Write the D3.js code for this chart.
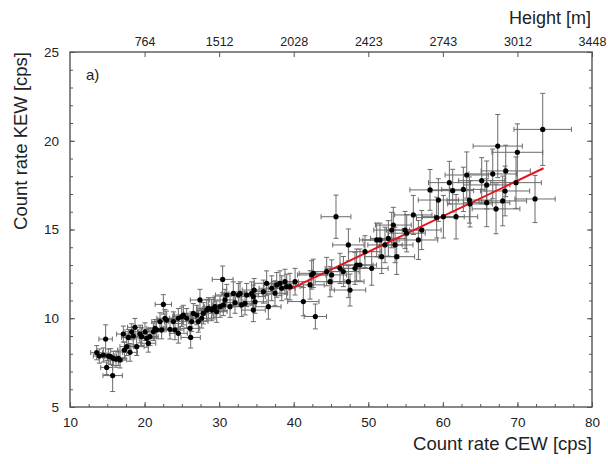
<!DOCTYPE html>
<html>
<head>
<meta charset="utf-8">
<script src="https://cdn.jsdelivr.net/npm/d3@7"></script>
<style>
  html, body { margin: 0; padding: 0; background: #fff; }
  svg text { font-family: "Liberation Sans", Arial, sans-serif; fill: #222; }
</style>
</head>
<body>
<div id="chart"></div>
<script>
// count rates
const cew = [13.58,13.93,14.47,14.78,14.92,15.14,15.45,15.72,15.81,16.17,16.48,16.71,17.15,17.29,17.6,17.82,18.05,18.27,18.49,18.72,
  18.94,19.39,19.61,20.06,20.28,20.5,20.73,21.18,21.4,21.62,22.07,22.29,22.52,22.74,22.96,23.41,23.86,24.08,24.53,24.53,
  24.98,25.2,25.65,26.09,26.18,26.32,26.54,26.99,27.21,27.43,27.66,27.88,28.33,28.55,29.0,29.22,29.45,29.67,30.12,30.47,
  30.56,30.79,31.01,31.46,31.9,32.13,32.57,32.8,33.02,33.47,33.69,34.36,34.59,34.81,34.59,34.7,35.93,36.37,36.6,37.05,
  37.49,37.72,38.16,38.39,38.83,39.06,39.5,40.18,41.29,42.19,42.41,42.63,42.9,44.42,44.87,45.09,45.67,46.21,46.66,47.33,
  47.33,47.55,48.22,48.44,48.89,49.56,50.46,51.13,51.57,51.8,52.24,52.69,53.14,53.36,53.59,53.81,54.93,55.15,56.04,56.72,
  57.16,58.28,59.17,59.4,60.07,60.87,61.32,61.77,62.75,63.2,63.56,63.65,65.21,65.88,65.88,66.69,67.13,67.36,68.03,68.34,
  68.43,69.81,69.99,72.36,73.39];
const kew = [8.06,7.87,7.93,8.83,7.23,7.87,7.84,6.77,7.74,7.69,7.74,7.65,9.11,8.21,8.4,8.92,8.08,9.24,9.0,9.49,
  8.4,9.11,8.96,9.24,8.87,8.59,8.96,9.24,9.43,9.34,9.81,9.34,10.78,10.0,9.9,9.38,9.81,9.34,9.15,10.0,
  10.09,10.18,10.0,9.43,8.92,9.81,10.28,10.18,9.81,11.03,10.0,10.28,10.46,10.56,10.46,10.56,10.65,10.37,10.65,12.19,
  10.75,11.03,11.31,10.65,11.4,10.88,11.31,11.4,10.75,10.84,11.31,11.4,10.46,10.93,11.22,11.59,11.5,11.97,10.65,11.69,
  11.41,11.88,11.97,11.69,12.06,11.78,11.78,12.06,10.94,11.88,12.44,12.53,10.1,12.63,12.06,12.44,15.72,12.81,12.63,14.13,
  12.06,11.59,12.81,13.0,13.0,13.75,12.81,14.41,14.41,13.47,14.13,14.5,14.97,15.25,14.13,13.47,14.97,14.79,15.82,14.41,
  14.97,17.23,15.67,16.66,15.72,17.64,17.19,15.72,17.26,18.07,16.66,16.44,17.75,17.51,16.51,18.13,16.16,19.7,16.61,17.17,
  18.3,17.64,19.35,16.72,20.64];
const cewErr = [0.8,0.8,0.8,0.9,0.8,0.8,0.8,1.3,0.8,0.9,0.9,0.9,0.9,0.9,0.9,0.9,1.0,0.9,1.0,1.0,
  1.0,1.0,1.0,1.0,1.0,1.0,1.1,1.1,1.1,1.1,1.1,1.1,1.1,1.1,1.2,1.2,1.2,1.2,1.2,1.2,
  1.2,1.2,1.2,1.3,1.3,1.3,1.3,1.3,1.3,1.3,1.3,1.3,1.3,1.4,1.4,1.4,1.4,1.4,1.4,1.4,
  1.4,1.4,1.5,1.5,1.5,1.5,1.5,1.5,1.5,1.5,1.6,1.6,1.6,1.6,1.6,1.6,1.6,1.7,1.7,1.7,
  1.7,1.7,1.8,1.8,1.8,1.8,1.8,1.8,2.1,1.9,1.9,1.9,1.5,2.0,2.0,2.0,2.0,2.0,2.1,2.1,
  2.1,2.1,2.1,2.2,2.2,2.2,2.2,2.3,2.3,2.3,2.3,2.4,2.4,2.4,2.4,2.4,2.5,2.5,2.5,2.6,
  2.6,2.7,2.7,2.7,2.8,2.8,2.8,2.9,2.9,2.9,3.0,3.0,3.1,3.1,3.1,3.2,3.2,3.3,3.2,3.3,
  3.3,3.4,3.4,2.7,3.85];
const kewErr = [0.4,0.4,0.4,0.8,0.4,0.4,0.45,0.9,0.4,0.45,0.4,0.45,0.45,0.45,0.5,0.45,0.5,0.45,0.5,0.5,
  0.5,0.5,0.5,0.5,0.5,0.5,0.5,0.5,0.5,0.5,0.5,0.5,0.55,0.5,0.5,0.55,0.55,0.55,0.55,0.55,
  0.55,0.55,0.55,0.55,0.6,0.55,0.55,0.55,0.6,0.6,0.55,0.6,0.6,0.6,0.6,0.6,0.6,0.6,0.6,0.75,
  0.6,0.6,0.6,0.6,0.65,0.6,0.65,0.65,0.65,0.65,0.65,0.65,0.65,0.65,0.65,0.65,0.65,0.7,0.7,0.7,
  0.7,0.7,0.7,0.7,0.7,0.7,0.75,0.75,0.8,0.8,0.8,0.8,0.7,0.8,0.85,0.85,1.22,0.85,0.85,0.9,
  0.9,0.9,0.9,0.9,0.9,0.9,0.95,0.95,0.95,0.95,1.0,1.0,1.0,1.0,1.0,1.0,1.05,1.05,1.1,1.1,
  1.1,1.15,1.15,1.2,1.2,1.2,1.2,1.25,1.25,1.3,1.3,1.3,1.3,1.35,1.35,1.4,1.4,1.78,1.4,1.4,
  1.45,1.45,1.6,1.33,2.03];

// linear fit (red line)
const fitX = [39.3, 73.5];
const fitY = [11.6, 18.45];

// top axis: height at each count rate tick
const topTicks = [20, 30, 40, 50, 60, 70, 80];
const heightLabels = ["764", "1512", "2028", "2423", "2743", "3012", "3448"];

const width = 608, height = 464;
const margin = {top: 52, right: 16, bottom: 57, left: 70};

const svg = d3.select('#chart').append('svg')
  .attr('width', width).attr('height', height);

const x = d3.scaleLinear().domain([10, 80]).range([margin.left, width - margin.right]);
const y = d3.scaleLinear().domain([5, 25]).range([height - margin.bottom, margin.top]);

const axisColor = '#555';

// minor ticks first
svg.append('g').attr('transform', `translate(0,${y(5)})`)
  .call(d3.axisBottom(x).tickValues(d3.range(12.5, 80, 2.5)).tickSize(-3).tickFormat(''));
svg.append('g').attr('transform', `translate(${x(10)},0)`)
  .call(d3.axisLeft(y).tickValues(d3.range(6, 25, 1)).tickSize(-3).tickFormat(''));
svg.append('g').attr('transform', `translate(${x(80)},0)`)
  .call(d3.axisRight(y).tickValues(d3.range(6, 25, 1)).tickSize(-3).tickFormat(''));

// major ticks + labels
const xAxis = svg.append('g').attr('transform', `translate(0,${y(5)})`)
  .call(d3.axisBottom(x).tickValues(d3.range(10, 81, 10)).tickSize(-5).tickPadding(10));
const yAxis = svg.append('g').attr('transform', `translate(${x(10)},0)`)
  .call(d3.axisLeft(y).tickValues(d3.range(5, 26, 5)).tickSize(-5).tickPadding(11));
svg.append('g').attr('transform', `translate(${x(80)},0)`)
  .call(d3.axisRight(y).tickValues(d3.range(5, 26, 5)).tickSize(-5).tickFormat(''));
const topAxis = svg.append('g').attr('transform', `translate(0,${y(25)})`)
  .call(d3.axisTop(x).tickValues(topTicks).tickSize(-5).tickPadding(6)
    .tickFormat((d, i) => heightLabels[i]));

svg.selectAll('.domain').remove();
svg.selectAll('.tick line').attr('stroke', axisColor).attr('stroke-width', 1);
xAxis.selectAll('text').attr('font-size', 13.5);
yAxis.selectAll('text').attr('font-size', 13.5);
topAxis.selectAll('text').attr('font-size', 12.5);

// frame
svg.append('rect')
  .attr('x', x(10)).attr('y', y(25))
  .attr('width', x(80) - x(10)).attr('height', y(5) - y(25))
  .attr('fill', 'none').attr('stroke', axisColor).attr('stroke-width', 1.4);

// error bars
const pts = cew.map((v, i) => ({x: v, y: kew[i], ex: cewErr[i], ey: kewErr[i]}));
const cap = 2.5;
const eb = svg.append('g').attr('stroke', '#6a6a6a').attr('stroke-width', 1).attr('fill', 'none');
pts.forEach((p) => {
  const g = eb.append('g');
  g.append('line').attr('x1', x(p.x - p.ex)).attr('x2', x(p.x + p.ex)).attr('y1', y(p.y)).attr('y2', y(p.y));
  g.append('line').attr('x1', x(p.x)).attr('x2', x(p.x)).attr('y1', y(p.y - p.ey)).attr('y2', y(p.y + p.ey));
  g.append('line').attr('x1', x(p.x - p.ex)).attr('x2', x(p.x - p.ex)).attr('y1', y(p.y) - cap).attr('y2', y(p.y) + cap);
  g.append('line').attr('x1', x(p.x + p.ex)).attr('x2', x(p.x + p.ex)).attr('y1', y(p.y) - cap).attr('y2', y(p.y) + cap);
  g.append('line').attr('x1', x(p.x) - cap).attr('x2', x(p.x) + cap).attr('y1', y(p.y - p.ey)).attr('y2', y(p.y - p.ey));
  g.append('line').attr('x1', x(p.x) - cap).attr('x2', x(p.x) + cap).attr('y1', y(p.y + p.ey)).attr('y2', y(p.y + p.ey));
});

// fit line
svg.append('path')
  .datum(fitX.map((v, i) => [v, fitY[i]]))
  .attr('fill', 'none').attr('stroke', '#e8141c').attr('stroke-width', 2)
  .attr('d', d3.line().x((d) => x(d[0])).y((d) => y(d[1])));

// points
svg.append('g').selectAll('circle').data(pts).join('circle')
  .attr('cx', (d) => x(d.x)).attr('cy', (d) => y(d.y)).attr('r', 2.6).attr('fill', '#000');

// labels
svg.append('text').attr('x', x(80)).attr('y', 450).attr('text-anchor', 'end')
  .attr('font-size', 18.5).text('Count rate CEW [cps]');
svg.append('text').attr('transform', `translate(27,${y(25)}) rotate(-90)`).attr('text-anchor', 'end')
  .attr('font-size', 18.5).text('Count rate KEW [cps]');
svg.append('text').attr('x', x(80) - 1).attr('y', 24).attr('text-anchor', 'end')
  .attr('font-size', 18).text('Height [m]');
svg.append('text').attr('x', 86).attr('y', 80).attr('font-size', 15).text('a)');
</script>
</body>
</html>
